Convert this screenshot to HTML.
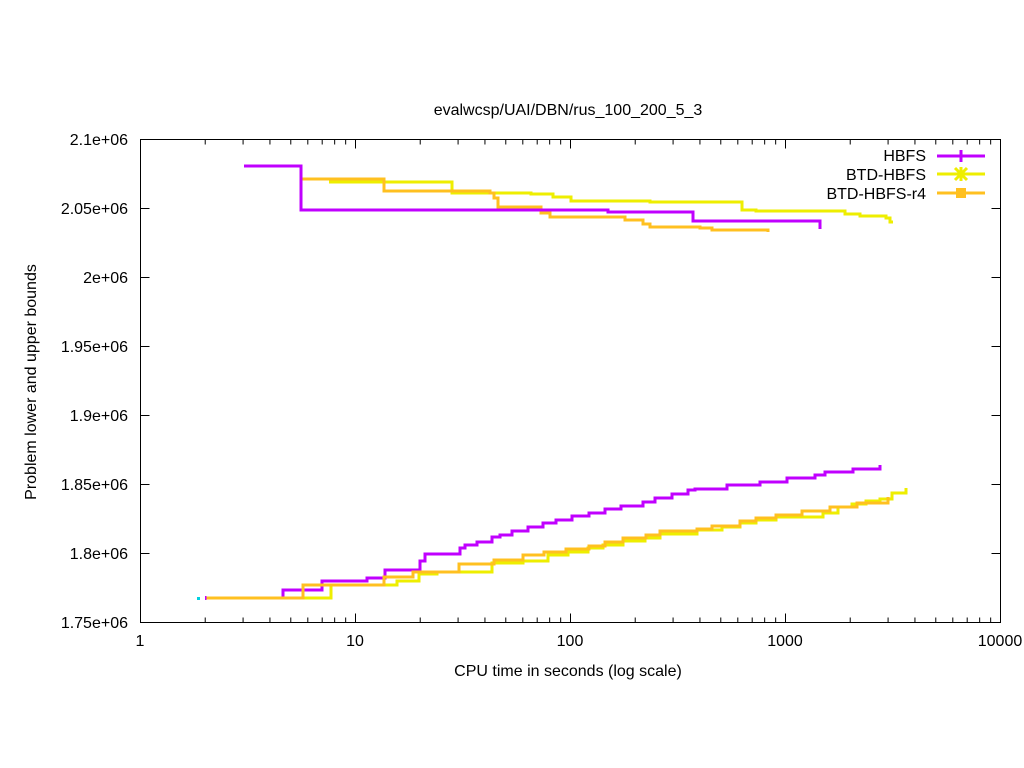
<!DOCTYPE html>
<html><head><meta charset="utf-8"><style>
body{margin:0;background:#fff}
svg{display:block;font-family:"Liberation Sans",sans-serif;font-size:16px}
</style></head><body>
<svg id="s" width="1024" height="768" viewBox="0 0 1024 768" xmlns="http://www.w3.org/2000/svg">
<rect width="1024" height="768" fill="#fff"/>
<g id="ticks" stroke="#000" stroke-width="1"></g>
<rect x="140.5" y="139.5" width="860" height="483" fill="none" stroke="#000" stroke-width="1"/>
<text x="568" y="115" text-anchor="middle">evalwcsp/UAI/DBN/rus_100_200_5_3</text>
<text x="568" y="676" text-anchor="middle">CPU time in seconds (log scale)</text>
<text transform="translate(36,382) rotate(-90)" text-anchor="middle">Problem lower and upper bounds</text>
<g text-anchor="end">
<text x="128" y="145">2.1e+06</text>
<text x="128" y="214">2.05e+06</text>
<text x="128" y="283">2e+06</text>
<text x="128" y="352">1.95e+06</text>
<text x="128" y="421">1.9e+06</text>
<text x="128" y="490">1.85e+06</text>
<text x="128" y="559">1.8e+06</text>
<text x="128" y="628">1.75e+06</text>
</g>
<g text-anchor="middle">
<text x="140" y="646">1</text>
<text x="355" y="646">10</text>
<text x="570" y="646">100</text>
<text x="785" y="646">1000</text>
<text x="1000" y="646">10000</text>
</g>
<g text-anchor="end">
<text x="926" y="161">HBFS</text>
<text x="926" y="180">BTD-HBFS</text>
<text x="926" y="199">BTD-HBFS-r4</text>
</g>
<g fill="none" stroke-width="3">
<line x1="937" y1="156" x2="985" y2="156" stroke="#c000ff"/>
<line x1="961" y1="150" x2="961" y2="162" stroke="#c000ff"/>
<line x1="937" y1="174" x2="985" y2="174" stroke="#eeee00"/>
<path d="M955 168 L967 180 M955 180 L967 168 M961 167 V181" stroke="#eeee00"/>
<line x1="937" y1="193" x2="985" y2="193" stroke="#ffc020"/>
<rect x="956" y="188" width="10" height="10" fill="#ffc020" stroke="none"/>

<polyline stroke="#eeee00" points="329,182 452,182 452,193 531,193 531,194 553,194 553,197 571,197 571,201 650,201 650,202 742,202 742,210 756,210 756,211 845,211 845,214 860,214 860,216 886,216 886,218 890,218 890,222 893,222"/>
<polyline stroke="#ffc020" points="302,179 384,179 384,191 490,191 490,193 494,193 494,198 498,198 498,207 541,207 541,213 550,213 550,217 625,217 625,220 643,220 643,224 650,224 650,227 700,227 700,228 712,228 712,230 768,230 768,232"/>
<polyline stroke="#c000ff" points="244,166 301,166 301,210 608,210 608,212 693,212 693,221 820,221 820,229"/>

<polyline stroke="#c000ff" points="283,598 283,590 322,590 322,581 367,581 367,578 385,578 385,570 420,570 420,561 425,561 425,554 460,554 460,548 465,548 465,545 477,545 477,542 492,542 492,537 500,537 500,535 512,535 512,531 528,531 528,527 543,527 543,523 556,523 556,520 572,520 572,516 589,516 589,513 605,513 605,509 621,509 621,506 643,506 643,502 655,502 655,498 672,498 672,494 688,494 688,490 695,490 695,489 727,489 727,485 760,485 760,482 787,482 787,478 815,478 815,475 825,475 825,472 853,472 853,469 880,469 880,465"/>
<polyline stroke="#eeee00" points="206,598 331,598 331,585 397,585 397,581 419,581 419,574 437,574 437,572 492,572 492,563 523,563 523,561 548,561 548,555 568,555 568,552 588,552 588,548 603,548 603,545 623,545 623,541 645,541 645,538 660,538 660,534 697,534 697,530 722,530 722,527 740,527 740,523 756,523 756,520 776,520 776,517 823,517 823,513 838,513 838,507 852,507 852,504 866,504 866,501 880,501 880,499 892,499 892,493 906,493 906,488"/>
<polyline stroke="#ffc020" points="205,598 303,598 303,585 384,585 384,577 413,577 413,572 459,572 459,564 494,564 494,560 523,560 523,555 544,555 544,552 566,552 566,549 589,549 589,546 605,546 605,542 623,542 623,538 646,538 646,535 660,535 660,531 697,531 697,529 712,529 712,526 740,526 740,521 756,521 756,518 776,518 776,515 802,515 802,511 830,511 830,507 857,507 857,503 888,503 888,497"/>
</g>
<rect x="205" y="596" width="1.5" height="4" fill="#c000ff"/>
<rect x="197" y="597" width="3" height="3" fill="#00d0e0"/>
</svg>
<script>
var g=document.getElementById('ticks'),h='';
function ln(a,b,c,d){h+='<line x1="'+a+'" y1="'+b+'" x2="'+c+'" y2="'+d+'"/>';}
for(var d=0;d<4;d++){for(var k=1;k<10;k++){var x=140.5+215*(d+Math.log10(k));var L=(k==1)?9:5;ln(x,139.5,x,139.5+L);ln(x,622.5,x,622.5-L);}}
ln(1000.5,139.5,1000.5,148.5);ln(1000.5,622.5,1000.5,613.5);
for(var i=0;i<8;i++){var y=139.5+69*i;ln(140.5,y,149.5,y);ln(1000.5,y,991.5,y);}
g.innerHTML=h;
</script>
</body></html>
